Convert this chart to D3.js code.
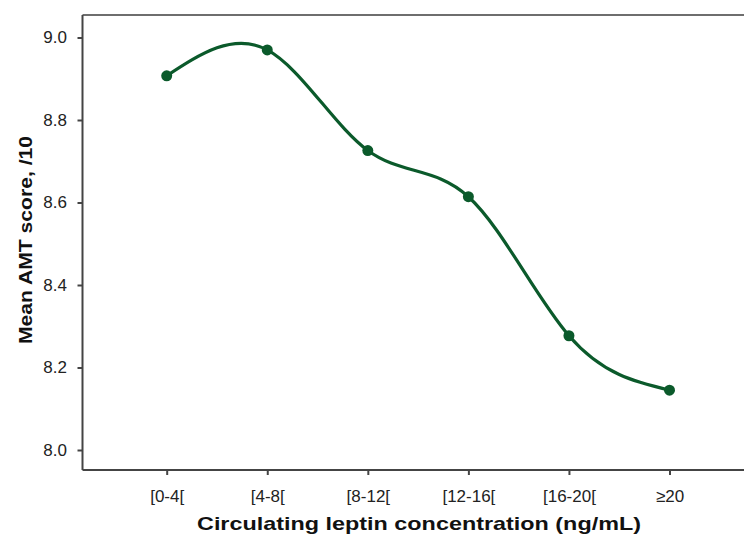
<!DOCTYPE html>
<html><head><meta charset="utf-8">
<script src="https://cdn.jsdelivr.net/npm/d3@7"></script>
<style>body{margin:0;background:#fff}svg{display:block}</style>
</head><body><svg id="c" width="744" height="534"></svg>
<script>
const categories = ["[0-4[", "[4-8[", "[8-12[", "[12-16[", "[16-20[", "≥20"];
const values = [8.907, 8.970, 8.726, 8.614, 8.277, 8.145];
const yTicks = [8.0, 8.2, 8.4, 8.6, 8.8, 9.0];

(function(){
const svg = d3.select("#c");
const mLeft = 82.5, mTop = 15, mBottom = 470, mRight = 760;
const x = d3.scalePoint().domain(categories).range([166.7, 669.5]);
const y = d3.scaleLinear().domain([8.0, 9.0]).range([450, 37.5]);
const color = "#0b5a2b";
const ff = "Arial, 'Liberation Sans', sans-serif";

// frame
svg.append("line").attr("x1", mLeft).attr("x2", mRight).attr("y1", mTop).attr("y2", mTop)
  .attr("stroke", "#6e6e6e").attr("stroke-width", 2.2);

const yAxis = svg.append("g").attr("transform", `translate(${mLeft},0)`)
  .call(d3.axisLeft(y).tickValues(yTicks).tickFormat(d3.format(".1f")).tickSize(5).tickSizeOuter(0));
yAxis.select(".domain").attr("d", `M0,${mTop}V${mBottom}`).attr("stroke", "#444").attr("stroke-width", 2);
yAxis.selectAll(".tick line").attr("stroke", "#444").attr("stroke-width", 2);
yAxis.selectAll(".tick text").attr("x", -15.5).attr("font-family", ff)
  .attr("font-size", 17).attr("fill", "#222");

const xAxis = svg.append("g").attr("transform", `translate(0,${mBottom})`)
  .call(d3.axisBottom(x).tickSize(5).tickSizeOuter(0));
xAxis.select(".domain").attr("d", `M${mLeft},0H${mRight}`).attr("stroke", "#444").attr("stroke-width", 2);
xAxis.selectAll(".tick line").attr("stroke", "#444").attr("stroke-width", 2);
xAxis.selectAll(".tick text").attr("y", 20).attr("font-family", ff)
  .attr("font-size", 17).attr("fill", "#222");

// titles
svg.append("text").attr("x", 419).attr("y", 530).attr("text-anchor", "middle")
  .attr("font-family", ff).attr("font-weight", "bold")
  .attr("font-size", 19).attr("textLength", 444).attr("lengthAdjust", "spacingAndGlyphs")
  .attr("fill", "#111")
  .text("Circulating leptin concentration (ng/mL)");
svg.append("text").attr("transform", "translate(32,240) rotate(-90)").attr("text-anchor", "middle")
  .attr("font-family", ff).attr("font-weight", "bold")
  .attr("font-size", 19).attr("textLength", 208).attr("lengthAdjust", "spacingAndGlyphs")
  .attr("fill", "#111")
  .text("Mean AMT score, /10");

// line
const data = categories.map((c, i) => ({c, v: values[i]}));
const line = d3.line().x(d => x(d.c)).y(d => y(d.v)).curve(d3.curveNatural);
svg.append("path").datum(data).attr("d", line).attr("fill", "none")
  .attr("stroke", color).attr("stroke-width", 3.2);
svg.selectAll("circle.pt").data(data).join("circle").attr("class", "pt")
  .attr("cx", d => x(d.c)).attr("cy", d => y(d.v)).attr("r", 5.5).attr("fill", color);
})();
</script></body></html>
